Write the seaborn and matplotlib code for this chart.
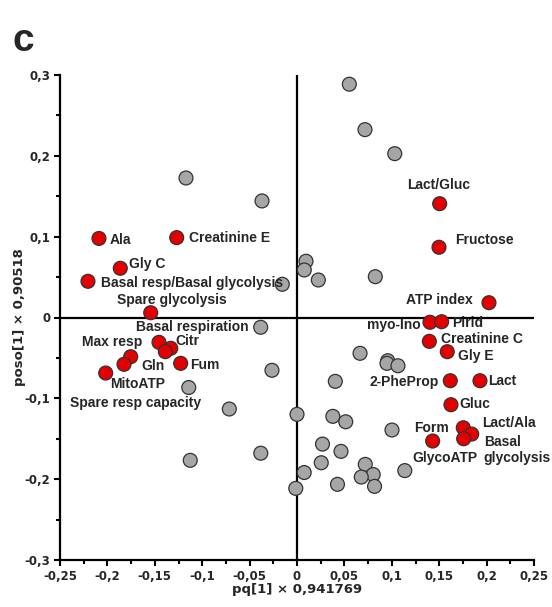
import numpy as np
import pandas as pd
import matplotlib
matplotlib.use("Agg")
import matplotlib.pyplot as plt
import seaborn as sns
from matplotlib.ticker import MultipleLocator, FuncFormatter

# ---- data ----
red_names = ["Ala", "Creatinine E", "Gly C", "Basal resp/Basal glycolysis", "Spare glycolysis",
             "Max resp", "Citr", "Basal respiration", "Gln", "Spare resp capacity", "Fum", "MitoATP",
             "Lact/Gluc", "Fructose", "ATP index", "myo-Ino", "Pirid", "Creatinine C", "Gly E",
             "2-PheProp", "Lact", "Gluc", "Lact/Ala", "Basal\nglycolysis", "Form", "GlycoATP"]
red_x = [-0.2089, -0.1269, -0.1864, -0.2205, -0.1543,
         -0.1456, -0.1332, -0.1389, -0.1754, -0.1825, -0.1227, -0.2018,
         0.1505, 0.1498, 0.2025, 0.1403, 0.1526, 0.1396, 0.1585,
         0.1617, 0.1930, 0.1624, 0.1754, 0.1843, 0.1758, 0.1431]
red_y = [0.0978, 0.0988, 0.0609, 0.0448, 0.0059,
         -0.0307, -0.0381, -0.0423, -0.0485, -0.0579, -0.0567, -0.0687,
         0.1408, 0.0869, 0.0183, -0.0059, -0.0052, -0.0295, -0.0423,
         -0.0782, -0.0782, -0.1079, -0.1364, -0.1442, -0.1500, -0.1528]

gray_x = [0.0552, 0.0717, 0.1031, -0.1171, -0.0369, 0.0095, 0.0077, 0.0225, 0.0826, -0.0155,
          -0.0383, -0.0264, 0.0665, 0.0957, 0.0949, 0.1065, 0.0404, -0.1142, -0.0714, 0.0,
          0.0378, 0.0514, 0.1002, 0.0269, 0.0464, -0.0382, -0.1126, 0.0256, 0.0076, 0.0720,
          0.0804, 0.0678, 0.1137, 0.0818, 0.0427, -0.0013]
gray_y = [0.2886, 0.2324, 0.2027, 0.1726, 0.1442, 0.0696, 0.0588, 0.0464, 0.0505, 0.0411,
          -0.0121, -0.0653, -0.0443, -0.0535, -0.0567, -0.0597, -0.0790, -0.0866, -0.1132, -0.1198,
          -0.1223, -0.1290, -0.1392, -0.1566, -0.1656, -0.1679, -0.1767, -0.1797, -0.1918, -0.1817,
          -0.1943, -0.1974, -0.1894, -0.2089, -0.2064, -0.2114]

x_label = "pq[1] \u00d7 0,941769"
y_label = "poso[1] \u00d7 0,90518"
panel_label = "c"

# label placement (offset in pixels, horizontal alignment)
label_style = {
    "Ala": (11, -2, "left"), "Creatinine E": (12, 0, "left"), "Gly C": (9, 4, "left"),
    "Basal resp/Basal glycolysis": (13, -2, "left"), "Spare glycolysis": (-34, 13, "left"),
    "Max resp": (-17, 0, "right"), "Citr": (5, 7, "left"), "Basal respiration": (-29, 25, "left"),
    "Gln": (11, -9, "left"), "Spare resp capacity": (-54, -39, "left"), "Fum": (9, -2, "left"),
    "MitoATP": (4, -11, "left"),
    "Lact/Gluc": (-1, 19, "center"), "Fructose": (16, 7, "left"), "ATP index": (-16, 3, "right"),
    "myo-Ino": (-9, -3, "right"), "Pirid": (10, -1, "left"), "Creatinine C": (12, 2, "left"),
    "Gly E": (11, -4, "left"), "2-PheProp": (-12, -1, "right"), "Lact": (8, 0, "left"),
    "Gluc": (8, 1, "left"), "Lact/Ala": (19, 5, "left"), "Basal\nglycolysis": (12, -16, "left"),
    "Form": (-15, 11, "right"), "GlycoATP": (12, -17, "center"),
}

df = pd.concat([
    pd.DataFrame({"x": gray_x, "y": gray_y, "group": "other"}),
    pd.DataFrame({"x": red_x, "y": red_y, "group": "selected"}),
], ignore_index=True)

sns.set_style("white")
plt.rcParams["font.family"] = ["DejaVu Sans"]

fig = plt.figure(figsize=(5.52, 6.07), dpi=100)
ax = fig.add_axes([60 / 552, 1 - 560 / 607, 474 / 552, 485 / 607])

ax.axhline(0, color="black", lw=1.6, zorder=1)
ax.axvline(0, color="black", lw=1.6, zorder=1)

sns.scatterplot(data=df, x="x", y="y", hue="group",
                palette={"other": "#A6A6A6", "selected": "#E50000"},
                s=100, edgecolor="#333333", linewidth=0.9, legend=False, ax=ax, zorder=3)

ax.set_xlim(-0.25, 0.25)
ax.set_ylim(-0.3, 0.3)
ax.xaxis.set_major_locator(MultipleLocator(0.05))
ax.xaxis.set_minor_locator(MultipleLocator(0.025))
ax.yaxis.set_major_locator(MultipleLocator(0.1))
ax.yaxis.set_minor_locator(MultipleLocator(0.05))

def fmt(v, pos):
    v = round(v, 3)
    if abs(v) < 1e-9:
        return "0"
    return ("%g" % v).replace(".", ",")

ax.xaxis.set_major_formatter(FuncFormatter(fmt))
ax.yaxis.set_major_formatter(FuncFormatter(fmt))
ax.tick_params(which="both", direction="out", width=1.5, color="black",
               bottom=True, left=True, top=False, right=False)
ax.tick_params(which="major", length=4, labelsize=8.5, pad=3)
ax.tick_params(which="minor", length=3)
for lab in ax.get_xticklabels() + ax.get_yticklabels():
    lab.set_fontweight("bold")

for side in ["top", "right"]:
    ax.spines[side].set_visible(False)
for side in ["left", "bottom"]:
    ax.spines[side].set_linewidth(1.6)
    ax.spines[side].set_color("black")

ax.set_xlabel("")
ax.set_ylabel("")
fig.text(297 / 552, 1 - 589 / 607, x_label, ha="center", va="center",
         fontsize=9.5, fontweight="bold")
fig.text(20 / 552, 1 - 317 / 607, y_label, ha="center", va="center",
         rotation=90, fontsize=9.5, fontweight="bold")
fig.text(12 / 552, 1 - 41 / 607, panel_label, ha="left", va="center",
         fontsize=28, fontweight="bold", family=["Liberation Sans", "DejaVu Sans"])

for name, xv, yv in zip(red_names, red_x, red_y):
    dx, dy, ha = label_style[name]
    ax.annotate(name, (xv, yv), xytext=(dx, dy), textcoords="offset pixels",
                ha=ha, va="center", fontsize=10, fontweight="bold",
                family=["Liberation Sans", "DejaVu Sans"], linespacing=1.2, zorder=4)

fig.savefig("out.png", dpi=100)
